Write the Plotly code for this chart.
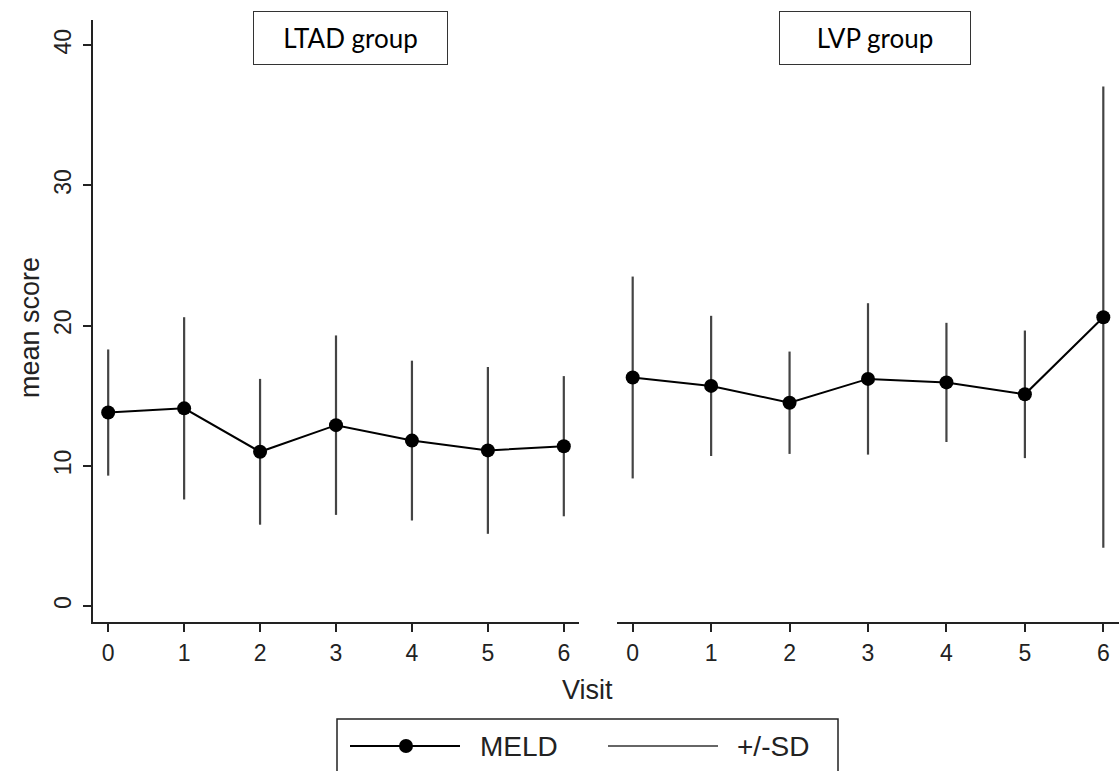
import plotly.graph_objects as go
from plotly.subplots import make_subplots

visits = [0, 1, 2, 3, 4, 5, 6]
ltad_mean = [13.8, 14.1, 11.0, 12.9, 11.8, 11.1, 11.4]
ltad_sd = [4.5, 6.5, 5.2, 6.4, 5.7, 5.95, 5.0]
lvp_mean = [16.3, 15.7, 14.5, 16.2, 15.95, 15.1, 20.6]
lvp_sd = [7.2, 5.0, 3.65, 5.4, 4.25, 4.55, 16.45]
panel_titles = ["LTAD group", "LVP group"]
y_ticks = [0, 10, 20, 30, 40]

W, H = 1119, 771
L, R, T, B = 93, 1119, 20, 622  # plot area in pixels


def px_x(p):
    return (p - L) / (R - L)


def px_y(p):
    return (B - p) / (B - T)


fig = make_subplots(rows=1, cols=2, shared_yaxes=True, horizontal_spacing=0.037)

for col, (m, sd) in enumerate([(ltad_mean, ltad_sd), (lvp_mean, lvp_sd)], start=1):
    fig.add_trace(go.Scatter(
        x=visits, y=m, mode="lines+markers",
        line=dict(color="black", width=2),
        marker=dict(color="black", size=14),
        error_y=dict(type="data", array=sd, visible=True, color="#444",
                     thickness=2.2, width=0),
        showlegend=False, cliponaxis=False,
    ), row=1, col=col)

axis_font = dict(family="Liberation Sans, Arial, sans-serif", size=23, color="#222")

fig.update_xaxes(range=[-0.2, 6.2], tickvals=visits, showline=True, linecolor="#222",
                 linewidth=2, ticks="outside", ticklen=8, tickwidth=2, tickcolor="#222",
                 showgrid=False, zeroline=False, tickfont=axis_font, ticklabelstandoff=1)
fig.update_layout(xaxis=dict(domain=[0, px_x(579)]), xaxis2=dict(domain=[px_x(617), 1]))
fig.update_yaxes(range=[-1.14, 41.8], showgrid=False, zeroline=False)
fig.update_yaxes(tickvals=y_ticks, showline=True, linecolor="#222", linewidth=2,
                 ticks="outside", ticklen=8, tickwidth=2, tickcolor="#222",
                 tickangle=-90, tickfont=axis_font, ticklabelstandoff=3, row=1, col=1)
fig.update_yaxes(showline=False, ticks="", showticklabels=False, row=1, col=2)

title_font = dict(family="Lato, Carlito, sans-serif", size=26, color="black")
for name, cx, w in [(panel_titles[0], 350.5, 193), (panel_titles[1], 875, 190)]:
    fig.add_annotation(text=name, xref="paper", yref="paper", x=px_x(cx), y=px_y(38),
                       xanchor="center", yanchor="middle", showarrow=False,
                       width=w, height=52, bordercolor="#333", borderwidth=1, borderpad=0,
                       bgcolor="white", font=title_font)

lab_font = dict(family="Liberation Sans, Arial, sans-serif", size=27, color="#222")
fig.add_annotation(text="Visit", xref="paper", yref="paper", x=px_x(587), y=px_y(690),
                   xanchor="center", yanchor="middle", showarrow=False, font=lab_font)
fig.add_annotation(text="mean score", xref="paper", yref="paper", x=px_x(30), y=px_y(328),
                   xanchor="center", yanchor="middle", showarrow=False, textangle=-90,
                   font=lab_font)

# legend box
fig.add_shape(type="rect", xref="paper", yref="paper", x0=px_x(337), x1=px_x(838),
              y0=px_y(780), y1=px_y(719), line=dict(color="#222", width=1.5),
              fillcolor="white")
ly = px_y(746)
fig.add_shape(type="line", xref="paper", yref="paper", x0=px_x(350), x1=px_x(460),
              y0=ly, y1=ly, line=dict(color="black", width=2))
fig.add_shape(type="circle", xref="paper", yref="paper", xsizemode="pixel",
              ysizemode="pixel", xanchor=px_x(406), yanchor=ly, x0=-7, x1=7, y0=-7, y1=7,
              fillcolor="black", line=dict(color="black", width=0))
fig.add_shape(type="line", xref="paper", yref="paper", x0=px_x(608), x1=px_x(718),
              y0=ly, y1=ly, line=dict(color="#333", width=1.5))
leg_font = dict(family="Liberation Sans, Arial, sans-serif", size=28, color="#222")
fig.add_annotation(text="MELD", xref="paper", yref="paper", x=px_x(478), y=ly,
                   xanchor="left", yanchor="middle", showarrow=False, font=leg_font)
fig.add_annotation(text="+/-SD", xref="paper", yref="paper", x=px_x(735), y=ly,
                   xanchor="left", yanchor="middle", showarrow=False, font=leg_font)

fig.update_layout(width=W, height=H, margin=dict(l=L, r=W - R, t=T, b=H - B),
                  plot_bgcolor="white", paper_bgcolor="white", showlegend=False)

fig.write_html("out.html")
